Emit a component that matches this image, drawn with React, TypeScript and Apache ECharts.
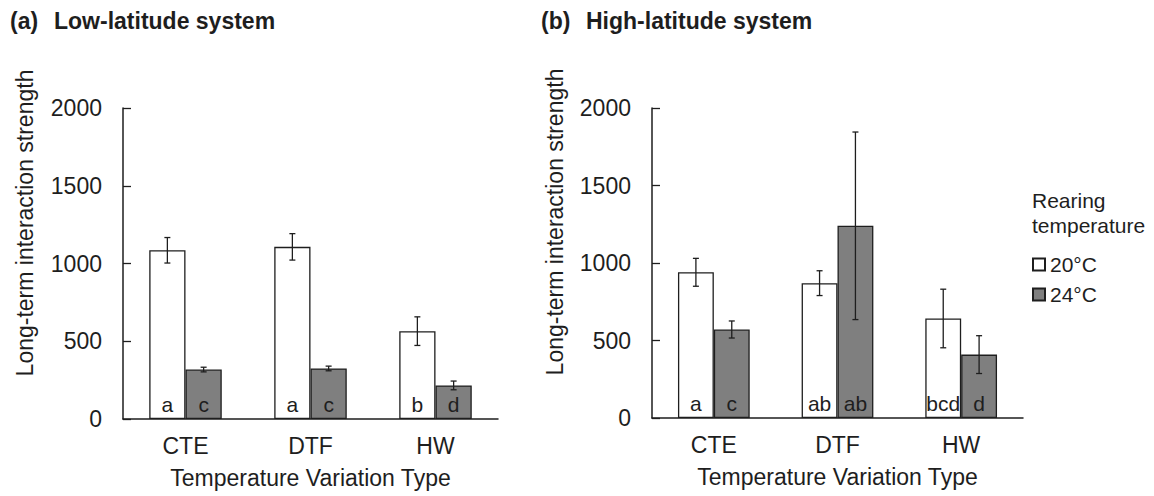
import React, { useEffect, useRef } from 'react';
import * as echarts from 'echarts';

const categories = ['CTE', 'DTF', 'HW'];
const seriesNames = ['20°C', '24°C'];

// Panel (a) Low-latitude system
const lowMean20 = [1085, 1107, 565];
const lowErr20 = [82, 85, 92];
const lowMean24 = [318, 325, 216];
const lowErr24 = [15, 15, 28];
const lowLetters20 = ['a', 'a', 'b'];
const lowLetters24 = ['c', 'c', 'd'];

// Panel (b) High-latitude system
const highMean20 = [940, 870, 642];
const highErr20 = [90, 80, 189];
const highMean24 = [571, 1240, 409];
const highErr24 = [55, 605, 122];
const highLetters20 = ['a', 'ab', 'bcd'];
const highLetters24 = ['c', 'ab', 'd'];

const yMin = 0;
const yMax = 2000;
const yInterval = 500;

const FONT = '"Liberation Sans", Arial, Helvetica, sans-serif';
const INK = '#1e1e1e';
const GRAY = '#7f7f7f';
const BAR_FRAC = 0.29;

function barSeries(name: string, data: number[], letters: string[], idx: number, fill: string) {
  return {
    name,
    type: 'bar',
    xAxisIndex: idx,
    yAxisIndex: idx,
    data,
    barWidth: BAR_FRAC * 100 + '%',
    barGap: '0%',
    itemStyle: { color: fill, borderColor: INK, borderWidth: 1.3 },
    label: {
      show: true,
      position: 'insideBottom',
      distance: 4,
      formatter: (p: any) => letters[p.dataIndex],
      fontSize: 21,
      fontFamily: FONT,
      color: INK,
    },
    silent: true,
  };
}

function errSeries(name: string, means: number[], errs: number[], idx: number, side: number) {
  return {
    name,
    type: 'custom',
    xAxisIndex: idx,
    yAxisIndex: idx,
    z: 5,
    silent: true,
    data: means.map((m, i) => [i, m, errs[i]]),
    encode: { x: 0, y: 1 },
    renderItem: (_params: any, api: any) => {
      const i = api.value(0);
      const m = api.value(1);
      const e = api.value(2);
      const band = api.size([1, 0])[0];
      const top = api.coord([i, m + e]);
      const bot = api.coord([i, m - e]);
      const x = top[0] + (side * band * BAR_FRAC) / 2;
      const cap = 3;
      const st = { stroke: INK, lineWidth: 1.3 };
      return {
        type: 'group',
        children: [
          { type: 'line', shape: { x1: x, y1: top[1], x2: x, y2: bot[1] }, style: st },
          { type: 'line', shape: { x1: x - cap, y1: top[1], x2: x + cap, y2: top[1] }, style: st },
          { type: 'line', shape: { x1: x - cap, y1: bot[1], x2: x + cap, y2: bot[1] }, style: st },
        ],
      };
    },
  };
}

function xAxis(idx: number) {
  return {
    type: 'category',
    gridIndex: idx,
    data: categories,
    axisTick: { show: false },
    axisLine: { lineStyle: { color: INK, width: 1.5 } },
    axisLabel: { fontSize: 23, lineHeight: 23, fontFamily: FONT, color: INK, margin: 15 },
    name: 'Temperature Variation Type',
    nameLocation: 'middle',
    nameGap: 47,
    nameTextStyle: { fontSize: 23, lineHeight: 23, fontFamily: FONT, color: INK },
  };
}

function yAxis(idx: number) {
  return {
    type: 'value',
    gridIndex: idx,
    min: yMin,
    max: yMax,
    interval: yInterval,
    splitLine: { show: false },
    axisLine: { show: true, lineStyle: { color: INK, width: 1.5 } },
    axisTick: { show: true, inside: true, length: 8, lineStyle: { color: INK, width: 1.3 } },
    axisLabel: { fontSize: 23, fontFamily: FONT, color: INK, margin: 21, formatter: (v: number) => String(v) },
  };
}

export default function App() {
  const ref = useRef<HTMLDivElement>(null);
  useEffect(() => {
    document.body.style.margin = '0';
    if (!ref.current) return;
    const chart = echarts.init(ref.current, null, { renderer: 'svg' });
    chart.setOption({
      animation: false,
      backgroundColor: '#ffffff',
      grid: [
        { left: 123, width: 375, top: 108, height: 311 },
        { left: 652, width: 371, top: 108, height: 310 },
      ],
      xAxis: [xAxis(0), xAxis(1)],
      yAxis: [yAxis(0), yAxis(1)],
      legend: {
        orient: 'vertical',
        left: 1032,
        top: 254,
        padding: 0,
        itemWidth: 12,
        itemHeight: 12,
        itemGap: 9,
        icon: 'rect',
        data: seriesNames,
        textStyle: { fontSize: 21, fontFamily: FONT, color: INK },
        selectedMode: false,
      },
      graphic: [
        { type: 'text', left: 10, top: 9, style: { text: '(a)', font: `bold 23px ${FONT}`, fill: INK } },
        { type: 'text', left: 54, top: 9, style: { text: 'Low-latitude system', font: `bold 23px ${FONT}`, fill: INK } },
        { type: 'text', left: 541, top: 9, style: { text: '(b)', font: `bold 23px ${FONT}`, fill: INK } },
        { type: 'text', left: 586, top: 9, style: { text: 'High-latitude system', font: `bold 23px ${FONT}`, fill: INK } },
        {
          type: 'text', x: 25, y: 223, rotation: Math.PI / 2,
          style: { text: 'Long-term interaction strength', font: `23px ${FONT}`, fill: INK, align: 'center', verticalAlign: 'middle' },
        },
        {
          type: 'text', x: 555, y: 222, rotation: Math.PI / 2,
          style: { text: 'Long-term interaction strength', font: `23px ${FONT}`, fill: INK, align: 'center', verticalAlign: 'middle' },
        },
        { type: 'text', left: 1032, top: 190, style: { text: 'Rearing', font: `21px ${FONT}`, fill: INK } },
        { type: 'text', left: 1032, top: 215, style: { text: 'temperature', font: `21px ${FONT}`, fill: INK } },
      ],
      series: [
        barSeries(seriesNames[0], lowMean20, lowLetters20, 0, '#ffffff'),
        barSeries(seriesNames[1], lowMean24, lowLetters24, 0, GRAY),
        barSeries(seriesNames[0], highMean20, highLetters20, 1, '#ffffff'),
        barSeries(seriesNames[1], highMean24, highLetters24, 1, GRAY),
        errSeries('err a 20', lowMean20, lowErr20, 0, -1),
        errSeries('err a 24', lowMean24, lowErr24, 0, 1),
        errSeries('err b 20', highMean20, highErr20, 1, -1),
        errSeries('err b 24', highMean24, highErr24, 1, 1),
      ],
    });
    return () => chart.dispose();
  }, []);
  return <div ref={ref} style={{ width: 1154, height: 496 }} />;
}
